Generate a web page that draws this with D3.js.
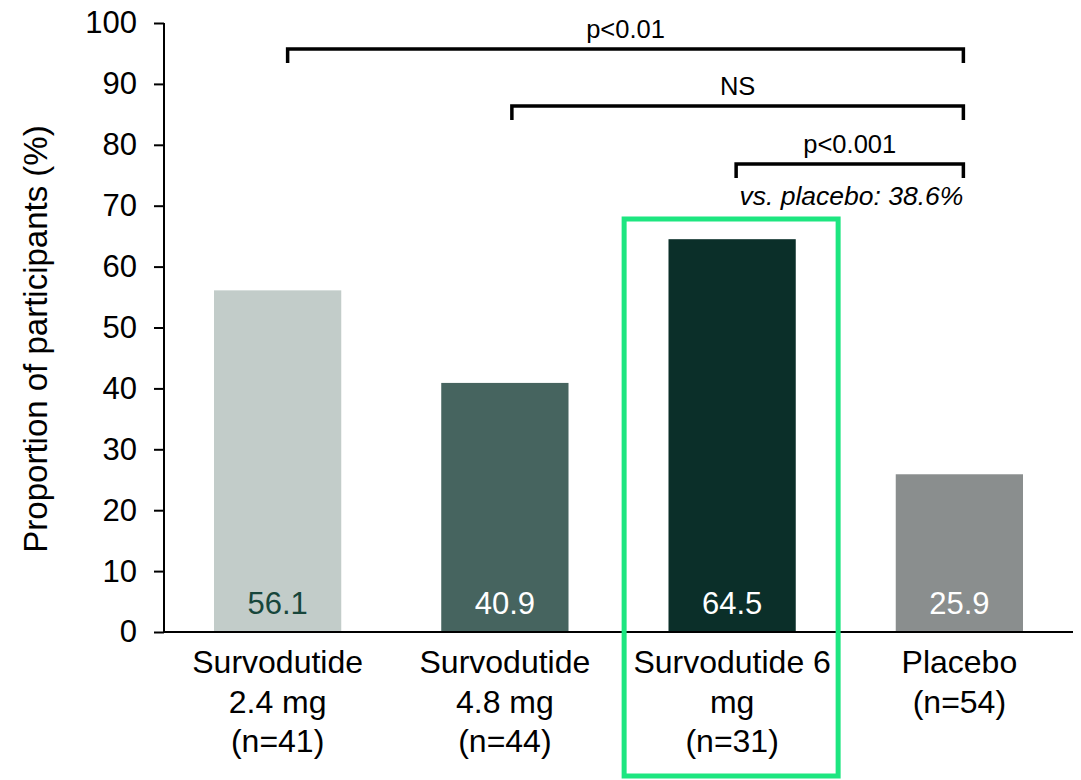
<!DOCTYPE html>
<html>
<head>
<meta charset="utf-8">
<script src="https://cdn.jsdelivr.net/npm/d3@7"></script>
<style>
  html, body { margin: 0; padding: 0; background: #ffffff; }
  svg { display: block; font-family: "Liberation Sans", Arial, sans-serif; }
</style>
</head>
<body>
<svg id="chart" width="1081" height="780"></svg>
<script>
// Treatment arms and their labels (one entry per line)
const categories = ["s24", "s48", "s6", "pbo"];
const categoryLines = [
  ["Survodutide", "2.4 mg", "(n=41)"],
  ["Survodutide", "4.8 mg", "(n=44)"],
  ["Survodutide 6", "mg", "(n=31)"],
  ["Placebo", "(n=54)"]
];
// Proportion of participants (%)
const values = [56.1, 40.9, 64.5, 25.9];
const barColors = ["#c2ccc9", "#46645f", "#0b2f29", "#8a8e8e"];
const valueLabelColors = ["#17463b", "#ffffff", "#ffffff", "#ffffff"];
const yTicks = [0, 10, 20, 30, 40, 50, 60, 70, 80, 90, 100];

// Pairwise comparisons against placebo
const comparisonFrom = ["s24", "s48", "s6"];
const comparisonTo = ["pbo", "pbo", "pbo"];
const comparisonLabels = ["p<0.01", "NS", "p<0.001"];
const differenceNote = "vs. placebo: 38.6%";
const highlighted = "s6";

const svg = d3.select("#chart");
const plotLeft = 164, plotRight = 1073, plotTop = 23, plotBottom = 632;

const x = d3.scaleBand()
  .domain(categories)
  .range([plotLeft, plotRight])
  .paddingInner(0.44)
  .paddingOuter(0.22);

const y = d3.scaleLinear()
  .domain([0, 100])
  .range([plotBottom, plotTop]);

const cx = c => x(c) + x.bandwidth() / 2;

// Bars
svg.append("g").selectAll("rect")
  .data(values)
  .join("rect")
  .attr("x", (d, i) => x(categories[i]))
  .attr("y", d => y(d))
  .attr("width", x.bandwidth())
  .attr("height", d => y(0) - y(d))
  .attr("fill", (d, i) => barColors[i]);

// Value labels inside the bars, near the base
svg.append("g").selectAll("text")
  .data(values)
  .join("text")
  .attr("x", (d, i) => cx(categories[i]))
  .attr("y", y(0) - 18)
  .attr("text-anchor", "middle")
  .attr("font-size", 31)
  .attr("fill", (d, i) => valueLabelColors[i])
  .text(d => d.toFixed(1));

// Y axis
const yAxis = svg.append("g")
  .attr("transform", `translate(${plotLeft},0)`)
  .call(d3.axisLeft(y).tickValues(yTicks).tickSize(10).tickPadding(17).tickSizeOuter(0));
yAxis.select(".domain").attr("stroke", "#000").attr("stroke-width", 2)
  .attr("d", `M0,${plotTop}V${plotBottom}`);
yAxis.selectAll(".tick line").attr("stroke", "#000").attr("stroke-width", 2);
yAxis.selectAll(".tick text")
  .attr("font-size", 31)
  .attr("font-family", "Liberation Sans, Arial, sans-serif")
  .attr("fill", "#000");

// X axis baseline
const xAxis = svg.append("g")
  .attr("transform", `translate(0,${plotBottom})`)
  .call(d3.axisBottom(x).tickSize(0).tickFormat(""));
xAxis.select(".domain").attr("stroke", "#000").attr("stroke-width", 2)
  .attr("d", `M${plotLeft},0H${plotRight}`);

// Category labels
const catG = svg.append("g");
categories.forEach((c, i) => {
  const t = catG.append("text")
    .attr("x", cx(c))
    .attr("y", 673)
    .attr("text-anchor", "middle")
    .attr("font-size", 32)
    .attr("fill", "#000");
  categoryLines[i].forEach((line, j) => {
    t.append("tspan")
      .attr("x", cx(c))
      .attr("dy", j === 0 ? 0 : 39.5)
      .text(line);
  });
});

// Y axis title
svg.append("text")
  .attr("transform", `translate(47,339) rotate(-90)`)
  .attr("text-anchor", "middle")
  .attr("font-size", 33)
  .attr("fill", "#000")
  .text("Proportion of participants (%)");

// Highlight box around the 6 mg arm
svg.append("rect")
  .attr("x", cx(highlighted) - 108)
  .attr("y", 219)
  .attr("width", 214)
  .attr("height", 557)
  .attr("fill", "none")
  .attr("stroke", "#1de680")
  .attr("stroke-width", 5);

// Significance brackets
const bracketY = [49, 106, 164];
const leftShift = [10, 7, 4];
const bracketDrop = 14;
const brG = svg.append("g");
comparisonFrom.forEach((c, i) => {
  const x1 = cx(c) + leftShift[i];
  const x2 = cx(comparisonTo[i]) + 4;
  const yy = bracketY[i];
  brG.append("path")
    .attr("d", `M${x1},${yy + bracketDrop}V${yy}H${x2}V${yy + bracketDrop}`)
    .attr("fill", "none")
    .attr("stroke", "#000")
    .attr("stroke-width", 3.5);
  brG.append("text")
    .attr("x", (x1 + x2) / 2)
    .attr("y", yy - 11)
    .attr("text-anchor", "middle")
    .attr("font-size", 25.5)
    .attr("fill", "#000")
    .text(comparisonLabels[i]);
});

// Difference annotation
svg.append("text")
  .attr("x", cx("pbo") + 4)
  .attr("y", 205)
  .attr("text-anchor", "end")
  .attr("font-size", 26.5)
  .attr("font-style", "italic")
  .attr("fill", "#000")
  .text(differenceNote);
</script>
</body>
</html>
